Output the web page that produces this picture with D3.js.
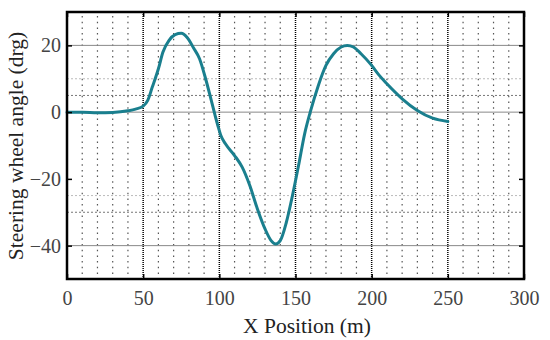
<!DOCTYPE html>
<html><head><meta charset="utf-8">
<script src="https://cdn.jsdelivr.net/npm/d3@7/dist/d3.min.js"></script>
<style>body{margin:0;background:#fff}svg{display:block}</style>
</head><body>
<svg id="c" width="550" height="340" font-family="Liberation Serif"></svg>
<script>
const xPos = [0,10,20,30,40,45,50,53,56,60,63,67,71,75,79,83,87,91,95,99,101,104,110,115,120,125,130,134,137,140,144,148,152,156,160,165,170,175,180,184,188,193,200,205,210,220,230,240,250];
const angle = [0,0,-0.2,-0.1,0.4,0.9,1.8,3.5,7.5,13,18,21.5,23.2,23.6,22.3,19.3,16,10,3,-4,-7,-9.5,-13,-16.5,-22,-29,-35,-38.5,-39.5,-38.5,-33,-25,-16,-6.5,0.5,8,14,17.5,19.5,20,19.5,17.5,14,11,8.5,4,0.5,-1.8,-2.8];
const xTicks = [0,50,100,150,200,250,300];
const yTicks = [-40,-20,0,20];
const xMinor = d3.range(0,301,10).filter(v=>v%50!==0);
const ySolid = [20,0,-40];
const yDotLight = [10,-25];
const yDotDark = [5,-30];

const FONT = 'Liberation Serif';
const svg = d3.select('#c');
const L=67,R=524,T=12,B=279;
const x = d3.scaleLinear().domain([0,300]).range([L,R]);
const y = d3.scaleLinear().domain([-50,30]).range([B,T]);

const g = svg.append('g');
g.selectAll('.hl').data(yDotLight).join('line')
 .attr('x1',L).attr('x2',R).attr('y1',d=>y(d)).attr('y2',d=>y(d))
 .attr('stroke','#bbb').attr('stroke-width',1).attr('stroke-dasharray','2,2');
g.selectAll('.hd').data(yDotDark).join('line')
 .attr('x1',L).attr('x2',R).attr('y1',d=>y(d)).attr('y2',d=>y(d))
 .attr('stroke','#777').attr('stroke-width',1).attr('stroke-dasharray','2,2');
g.selectAll('.vm').data(xMinor).join('line')
 .attr('x1',d=>x(d)).attr('x2',d=>x(d)).attr('y1',T+4).attr('y2',B)
 .attr('stroke','#555').attr('stroke-width',1.2).attr('stroke-dasharray','1.5,4.2');
g.selectAll('.vM').data(xTicks.filter(d=>d>0&&d<300)).join('line')
 .attr('x1',d=>x(d)).attr('x2',d=>x(d)).attr('y1',T).attr('y2',B)
 .attr('stroke','#000').attr('stroke-width',1.5).attr('stroke-dasharray','1,1');
g.selectAll('.hs').data(ySolid).join('line')
 .attr('x1',L).attr('x2',R).attr('y1',d=>y(d)).attr('y2',d=>y(d))
 .attr('stroke','#888').attr('stroke-width',1);

const line = d3.line().x((d,i)=>x(xPos[i])).y(d=>y(d)).curve(d3.curveMonotoneX);
svg.append('path').attr('d',line(angle)).attr('fill','none')
 .attr('stroke','#1a7f8e').attr('stroke-width',3).attr('stroke-linecap','round');

svg.append('g').attr('transform',`translate(0,${B})`)
 .call(d3.axisBottom(x).tickValues(xTicks).tickSize(-5).tickPadding(12));
svg.append('g').attr('transform',`translate(${L},0)`)
 .call(d3.axisLeft(y).tickValues(yTicks).tickSize(-5).tickPadding(6).tickFormat(d=>d<0?'\u2212'+Math.abs(d):d));
svg.append('g').attr('transform',`translate(${R},0)`)
 .call(d3.axisRight(y).tickValues(yTicks).tickSize(-5).tickFormat(''));
svg.append('g').attr('transform',`translate(0,${T})`)
 .call(d3.axisTop(x).tickValues(xTicks).tickSize(-5).tickFormat(''));
svg.selectAll('.domain').remove();
svg.selectAll('g').attr('font-family',FONT);
svg.selectAll('.tick line').attr('stroke','#000').attr('stroke-width',1.5);
svg.selectAll('.tick text').attr('font-family',FONT).attr('font-size',20).attr('fill','#444');

svg.append('rect').attr('x',L).attr('y',T).attr('width',R-L).attr('height',B-T)
 .attr('fill','none').attr('stroke','#000').attr('stroke-width',2.5);

svg.append('text').attr('x',307).attr('y',333).attr('text-anchor','middle')
 .attr('font-family',FONT).attr('font-size',21.5).attr('fill','#222').text('X Position (m)');
svg.append('text').attr('transform','translate(23,146) rotate(-90)').attr('text-anchor','middle')
 .attr('font-family',FONT).attr('font-size',21.5).attr('fill','#222').text('Steering wheel angle (drg)');
</script>
</body></html>
